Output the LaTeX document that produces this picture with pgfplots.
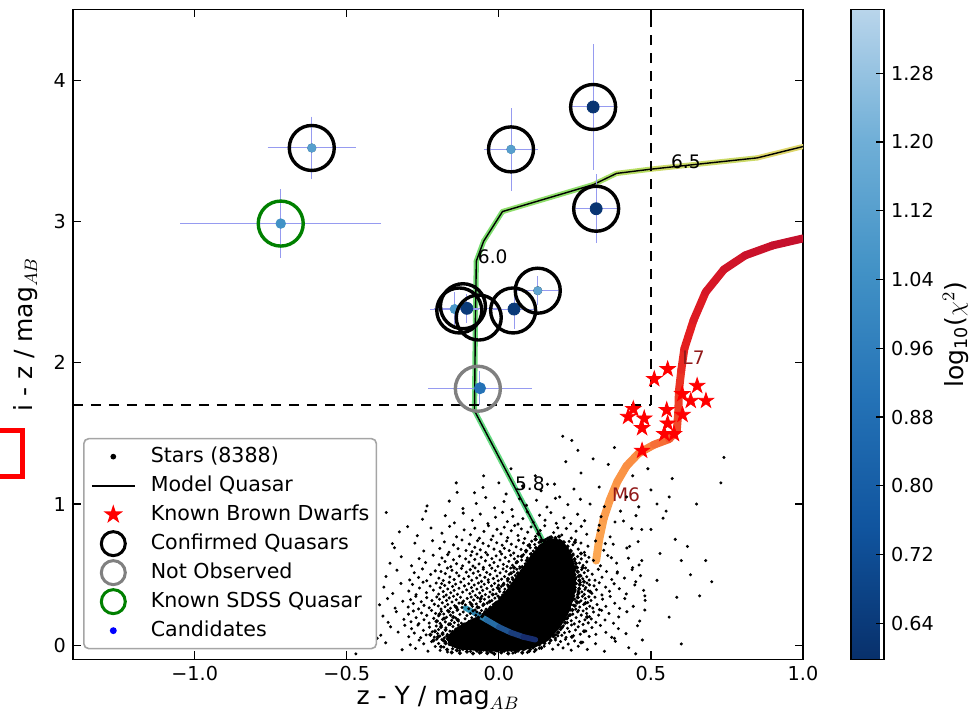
\documentclass[border=0pt]{standalone}
\usepackage{fontspec}
\setmainfont{DejaVu Sans}
\usepackage{pgfplots}
\pgfplotsset{compat=1.18}
\usetikzlibrary{plotmarks}

\definecolor{errc}{RGB}{150,155,240}
\definecolor{sdssg}{RGB}{0,128,0}
\definecolor{nobs}{RGB}{128,128,128}
\definecolor{lblred}{RGB}{145,25,25}
\definecolor{leggray}{RGB}{165,165,165}

% filled five-pointed star
\pgfdeclareplotmark{fstar}{%
  \pgfpathmoveto{\pgfpointpolar{90}{\pgfplotmarksize}}%
  \pgfpathlineto{\pgfpointpolar{126}{0.382\pgfplotmarksize}}%
  \pgfpathlineto{\pgfpointpolar{162}{\pgfplotmarksize}}%
  \pgfpathlineto{\pgfpointpolar{198}{0.382\pgfplotmarksize}}%
  \pgfpathlineto{\pgfpointpolar{234}{\pgfplotmarksize}}%
  \pgfpathlineto{\pgfpointpolar{270}{0.382\pgfplotmarksize}}%
  \pgfpathlineto{\pgfpointpolar{306}{\pgfplotmarksize}}%
  \pgfpathlineto{\pgfpointpolar{342}{0.382\pgfplotmarksize}}%
  \pgfpathlineto{\pgfpointpolar{18}{\pgfplotmarksize}}%
  \pgfpathlineto{\pgfpointpolar{54}{0.382\pgfplotmarksize}}%
  \pgfpathclose
  \pgfusepathqfillstroke}

\pgfplotsset{
  colormap={qso}{rgb255(0cm)=(30,50,150); rgb255(2cm)=(60,130,220); rgb255(3.5cm)=(70,200,225); rgb255(5cm)=(90,215,140); rgb255(7cm)=(120,222,110); rgb255(8.5cm)=(190,222,100); rgb255(10cm)=(228,212,110)},
  colormap={lowq}{rgb255(0cm)=(20,35,100); rgb255(5cm)=(35,100,160); rgb255(10cm)=(55,160,190)},
  colormap={bd}{rgb255(0cm)=(252,170,85); rgb255(3cm)=(250,140,65); rgb255(5cm)=(240,70,40); rgb255(7cm)=(228,30,32); rgb255(10cm)=(195,15,45)},
  colormap={cbblues}{rgb255(0cm)=(8,48,107); rgb255(1cm)=(16,84,158); rgb255(2cm)=(36,114,182); rgb255(3cm)=(66,146,198); rgb255(4cm)=(112,175,215); rgb255(5cm)=(185,213,235)},
  legimg/.style={legend image code/.code={%
    \path[draw=none,fill=none] (0pt,-7pt) rectangle (21.5pt,7pt);
    \draw[mark repeat=2,mark phase=2,##1] plot coordinates {(0pt,0pt) (10.75pt,0pt) (21.5pt,0pt)};}},
}

\begin{document}
\begin{tikzpicture}
\begin{axis}[
  at={(0pt,0pt)}, anchor=south west,
  scale only axis, width=365pt, height=325pt,
  xmin=-1.4, xmax=1.0, ymin=-0.1, ymax=4.5,
  xtick={-1,-0.5,0,0.5,1}, xticklabels={−1.0,−0.5,0.0,0.5,1.0},
  ytick={0,1,2,3,4}, yticklabels={0,1,2,3,4},
  tick align=inside, major tick length=4pt,
  tick style={black, line width=0.6pt},
  axis line style={line width=0.7pt},
  tick label style={font=\fontsize{9.6}{11}\selectfont},
  xlabel={z - Y / mag$_{AB}$}, ylabel={i - z / mag$_{AB}$},
  every axis x label/.style={at={([yshift=-22.75pt]axis description cs:0.5,0)}, anchor=base, font=\fontsize{12.5}{14}\selectfont},
  every axis y label/.style={at={([xshift=-20pt]axis description cs:0,0.5)}, rotate=90, anchor=base, font=\fontsize{12.5}{14}\selectfont},
  colormap name=cbblues, point meta min=0.598, point meta max=1.354,
  colorbar,
  colorbar style={
    at={(parent axis.north east)}, anchor=north west, xshift=15.5pt,
    width=16.5pt,
    ytick={0.64,0.72,0.80,0.88,0.96,1.04,1.12,1.20,1.28},
    yticklabels={0.64,0.72,0.80,0.88,0.96,1.04,1.12,1.20,1.28},
    ytick pos=right, yticklabel pos=right,
    tick align=inside, major tick length=4pt,
    tick style={black, line width=0.6pt},
    axis line style={line width=0.7pt},
    yticklabel style={font=\fontsize{9.6}{11}\selectfont},
    ylabel={log$_{\mathrm{10}}$($\chi^2$)},
    every axis y label/.style={at={([xshift=39.5pt]axis description cs:1,0.5)}, rotate=90, anchor=base, font=\fontsize{12.5}{14}\selectfont},
  },
  legend cell align=left,
  legend style={at={(axis description cs:0.0137,0.341)}, anchor=north west,
    draw=leggray, line width=0.8pt, rounded corners=2.5pt, fill=white,
    font=\fontsize{10.3}{12}\selectfont, inner xsep=3.5pt, inner ysep=2pt,
    nodes={inner sep=0pt}, column sep=7.5pt, row sep=0.5pt},
]

% model quasar track (coloured by redshift) with thin black line
\addplot[mesh, colormap name=qso, point meta=explicit, line width=2.6pt, line cap=round, line join=round, forget plot] coordinates {
(0.12,0.04) [0.60] (0.17,0.15) [0.75] (0.20,0.40) [0.916] (0.18,0.60) [0.953]
(0.157,0.69) [0.976] (0.045,1.15) [1.014] (-0.08,1.66) [1.052] (-0.077,2.30) [1.085]
(-0.074,2.72) [1.112] (-0.05,2.86) [1.127] (0.012,3.07) [1.142] (0.31,3.26) [1.188]
(0.387,3.34) [1.218] (0.50,3.37) [1.248] (0.85,3.45) [1.316] (1.0,3.53) [1.354]};
\addplot[black, line width=0.7pt, forget plot] coordinates {
(0.20,0.40) (0.18,0.60) (0.157,0.69) (0.045,1.15) (-0.08,1.66) (-0.077,2.30) (-0.074,2.72)
(-0.05,2.86) (0.012,3.07) (0.31,3.26) (0.387,3.34) (0.50,3.37) (0.85,3.45) (1.0,3.53)};

% brown dwarf track
\addplot[mesh, colormap name=bd, point meta=explicit, line width=4pt, line cap=round, line join=round, forget plot] coordinates {
(0.32,0.60) [0.598] (0.33,0.75) [0.636] (0.345,0.90) [0.674] (0.365,1.03) [0.711]
(0.39,1.16) [0.749] (0.42,1.27) [0.787] (0.46,1.36) [0.825] (0.51,1.42) [0.863]
(0.56,1.46) [0.916] (0.585,1.52) [0.953] (0.59,1.65) [0.991] (0.592,1.80) [1.029]
(0.60,1.95) [1.067] (0.61,2.10) [1.105] (0.64,2.30) [1.150] (0.68,2.50) [1.203]
(0.74,2.66) [1.248] (0.81,2.76) [1.286] (0.90,2.83) [1.324] (1.0,2.88) [1.354]};

% stars: saturated core of the stellar locus
\addplot[fill=black, draw=none, forget plot] coordinates {
(-0.165,0.0) (-0.13,-0.03) (-0.06,-0.04) (0.0,-0.045) (0.06,-0.04) (0.115,-0.02)
(0.16,0.03) (0.2,0.12) (0.228,0.22) (0.248,0.34) (0.254,0.45) (0.25,0.56) (0.236,0.66)
(0.208,0.745) (0.17,0.76) (0.135,0.715) (0.108,0.64) (0.078,0.55) (0.048,0.46) (0.018,0.37)
(-0.012,0.3) (-0.042,0.24) (-0.075,0.2) (-0.112,0.16) (-0.145,0.115) (-0.17,0.06)} -- cycle;

% low-redshift end of the quasar track, seen through the locus
\addplot[mesh, colormap name=lowq, point meta=explicit, line width=2.8pt, line cap=round, line join=round, forget plot] coordinates {
(-0.11,0.265) [1.354] (-0.08,0.23) [1.25] (-0.04,0.18) [1.1] (0.0,0.13) [0.95]
(0.04,0.09) [0.8] (0.08,0.06) [0.7] (0.12,0.04) [0.6]};

% stars: dense fringe of the core
\addplot[only marks, mark=*, mark size=0.8pt, black, forget plot] coordinates {
(-0.19,-0.01) (-0.175,0.015) (-0.17,-0.03) (-0.16,0.04) (-0.155,-0.05) (-0.145,0.0) (-0.138,-0.035) (-0.128,-0.055) (-0.118,-0.025) (-0.105,-0.045)
(-0.095,-0.02) (-0.085,-0.058) (-0.072,-0.038) (-0.063,-0.052) (-0.05,-0.03) (-0.038,-0.055) (-0.028,-0.042) (-0.015,-0.06) (-0.005,-0.035) (0.008,-0.05)
(0.018,-0.038) (0.031,-0.058) (0.042,-0.033) (0.054,-0.047) (0.066,-0.028) (0.077,-0.052) (0.088,-0.02) (0.1,-0.04) (0.112,-0.015) (0.121,-0.032)
(0.133,0.005) (0.14,-0.018) (0.15,0.015)
(0.158,0.05) (0.17,0.035) (0.168,0.085) (0.18,0.07) (0.186,0.11) (0.195,0.09) (0.198,0.14) (0.207,0.125) (0.205,0.175) (0.218,0.16) (0.212,0.2) (0.224,0.19)
(0.222,0.23) (0.234,0.215) (0.23,0.26) (0.242,0.25) (0.236,0.29) (0.25,0.28) (0.241,0.32) (0.255,0.31) (0.245,0.35) (0.259,0.34) (0.248,0.38) (0.262,0.37)
(0.25,0.41) (0.264,0.4) (0.252,0.44) (0.266,0.43)
(0.251,0.47) (0.265,0.46) (0.249,0.5) (0.263,0.49) (0.247,0.53) (0.26,0.52) (0.244,0.56) (0.257,0.55) (0.24,0.59) (0.253,0.58) (0.236,0.62) (0.249,0.61)
(0.23,0.65) (0.243,0.64) (0.222,0.68) (0.236,0.67) (0.213,0.71) (0.226,0.7) (0.2,0.74) (0.214,0.73) (0.186,0.76) (0.198,0.77)
(0.172,0.765) (0.16,0.755) (0.15,0.74) (0.138,0.735) (0.135,0.7) (0.122,0.69) (0.12,0.655) (0.107,0.645) (0.105,0.61) (0.092,0.6)
(0.09,0.565) (0.077,0.555) (0.075,0.52) (0.062,0.51) (0.06,0.475) (0.047,0.465) (0.045,0.43) (0.032,0.42) (0.03,0.385) (0.018,0.375)
(0.015,0.345) (0.003,0.335) (0.0,0.305) (-0.012,0.295) (-0.017,0.27) (-0.03,0.26) (-0.035,0.235) (-0.048,0.225) (-0.055,0.205) (-0.068,0.195)
(-0.08,0.18) (-0.092,0.17) (-0.1,0.158) (-0.114,0.148) (-0.12,0.132) (-0.134,0.122) (-0.14,0.105) (-0.153,0.095) (-0.158,0.075) (-0.17,0.065)
(-0.168,0.045) (-0.182,0.035)
(-0.2,0.06) (-0.21,0.1) (-0.19,0.13) (-0.205,0.17) (-0.18,0.19) (-0.195,0.22) (-0.165,0.24) (-0.15,0.2) (-0.135,0.18) (-0.16,0.15)
(-0.175,0.11) (-0.185,0.08) (-0.215,0.035) (-0.225,0.075) (-0.14,0.27) (-0.12,0.3) (-0.09,0.29) (-0.07,0.27) (-0.05,0.29) (-0.03,0.31)
(-0.06,0.33) (-0.02,0.36) (0.0,0.4) (0.015,0.43) (0.03,0.47) (0.04,0.51) (0.05,0.55) (0.06,0.59) (0.075,0.63) (0.09,0.67)
(0.1,0.71) (0.12,0.75) (0.13,0.79)
(0.28,0.1) (0.29,0.2) (0.285,0.3) (0.28,0.45) (0.275,0.55) (0.27,0.65) (0.25,0.73) (0.3,0.38) (0.27,0.02) (0.24,0.06)};

% stars: halo and outliers
\addplot[only marks, mark=*, mark size=0.55pt, black, forget plot] coordinates {
(-0.372,0.018) (-0.318,-0.031)
(-0.291,0.004) (-0.274,-0.022) (-0.262,0.037) (-0.247,0.011) (-0.233,-0.041) (-0.221,0.026) (-0.209,-0.008) (-0.204,0.044)
(-0.198,0.013) (-0.193,-0.036) (-0.187,0.041) (-0.181,-0.012) (-0.176,0.027) (-0.169,-0.047) (-0.163,0.006) (-0.158,0.033)
(-0.152,-0.024) (-0.147,0.046) (-0.141,-0.004) (-0.136,0.021) (-0.129,-0.038) (-0.122,0.039) (-0.115,-0.019) (-0.107,0.012)
(-0.093,-0.043) (-0.076,-0.031) (-0.058,-0.049) (-0.041,-0.036) (-0.022,-0.052) (-0.008,-0.039)
(0.011,-0.046) (0.028,-0.035) (0.046,-0.055) (0.063,-0.041) (0.081,-0.033) (0.094,-0.05)
(0.104,-0.029) (0.117,-0.044) (0.126,0.011) (0.133,-0.021) (0.142,0.034) (0.149,-0.006) (0.158,0.047) (0.166,0.016) (0.177,-0.027) (0.186,0.038) (0.195,0.004)
(0.203,0.027) (0.211,-0.018) (0.219,0.043) (0.228,0.009) (0.238,-0.034) (0.249,0.031) (0.261,-0.006) (0.276,0.022) (0.291,-0.029)
(0.318,0.012) (0.347,-0.042) (0.383,0.029) (0.427,-0.017) (0.472,0.038)
(-0.388,0.072) (-0.356,0.131) (-0.331,0.094) (-0.309,0.142)
(-0.296,0.061) (-0.287,0.118) (-0.278,0.087) (-0.266,0.143) (-0.257,0.054) (-0.248,0.106) (-0.239,0.074) (-0.228,0.129) (-0.219,0.096) (-0.212,0.058) (-0.206,0.137) (-0.201,0.083)
(-0.198,0.112) (-0.194,0.066) (-0.189,0.141) (-0.184,0.089) (-0.179,0.053) (-0.174,0.124) (-0.169,0.077) (-0.165,0.147) (-0.161,0.101) (-0.156,0.062)
(-0.151,0.133) (-0.147,0.086) (-0.142,0.115) (-0.137,0.071) (-0.133,0.144) (-0.128,0.127) (-0.122,0.139) (-0.116,0.148) (-0.109,0.146)
(-0.097,0.148) (-0.091,0.139) (-0.084,0.147) (-0.104,0.131) (-0.112,0.121)
(0.168,0.058) (0.174,0.083) (0.179,0.061) (0.184,0.104) (0.188,0.076) (0.192,0.129) (0.196,0.094) (0.199,0.147) (0.186,0.052) (0.194,0.067)
(0.203,0.112) (0.207,0.071) (0.212,0.138) (0.216,0.089) (0.221,0.056) (0.226,0.121) (0.232,0.097) (0.239,0.144) (0.245,0.068) (0.252,0.109) (0.261,0.131) (0.268,0.079) (0.277,0.148) (0.286,0.101) (0.297,0.063)
(0.306,0.126) (0.319,0.078) (0.334,0.141) (0.352,0.092) (0.371,0.057) (0.393,0.118) (0.418,0.083) (0.456,0.139)
(-0.381,0.207) (-0.364,0.163) (-0.337,0.238) (-0.312,0.184)
(-0.297,0.221) (-0.289,0.167) (-0.281,0.243) (-0.272,0.196) (-0.263,0.154) (-0.254,0.229) (-0.246,0.181) (-0.237,0.212) (-0.229,0.158) (-0.221,0.247) (-0.214,0.191) (-0.208,0.226) (-0.202,0.172)
(-0.198,0.209) (-0.193,0.156) (-0.189,0.241) (-0.185,0.184) (-0.181,0.222) (-0.176,0.166) (-0.172,0.199) (-0.168,0.246) (-0.164,0.152) (-0.159,0.214) (-0.155,0.177)
(-0.151,0.233) (-0.146,0.161) (-0.142,0.194) (-0.137,0.248) (-0.133,0.172) (-0.128,0.219) (-0.123,0.157) (-0.117,0.236) (-0.111,0.188) (-0.105,0.211)
(-0.098,0.171) (-0.094,0.226) (-0.089,0.195) (-0.085,0.244) (-0.081,0.181) (-0.076,0.213) (-0.072,0.237) (-0.067,0.199) (-0.062,0.228) (-0.057,0.247) (-0.051,0.218) (-0.046,0.239) (-0.039,0.249)
(0.216,0.183) (0.221,0.236) (0.225,0.161) (0.229,0.207) (0.234,0.249) (0.238,0.174) (0.243,0.221) (0.248,0.152) (0.254,0.196) (0.259,0.238) (0.265,0.168) (0.271,0.214) (0.277,0.244) (0.283,0.181) (0.289,0.226) (0.294,0.159) (0.298,0.203) (0.262,0.247)
(0.304,0.187) (0.311,0.236) (0.319,0.163) (0.328,0.214) (0.338,0.248) (0.349,0.179) (0.362,0.226) (0.377,0.157) (0.394,0.201) (0.421,0.238) (0.463,0.172)
(-0.392,0.287) (-0.366,0.331) (-0.341,0.264) (-0.316,0.312)
(-0.298,0.271) (-0.29,0.324) (-0.281,0.296) (-0.273,0.347) (-0.264,0.258) (-0.255,0.309) (-0.246,0.283) (-0.237,0.338) (-0.229,0.266) (-0.22,0.317) (-0.212,0.291) (-0.204,0.343)
(-0.199,0.279) (-0.195,0.326) (-0.19,0.257) (-0.186,0.301) (-0.181,0.344) (-0.177,0.273) (-0.172,0.318) (-0.168,0.289) (-0.163,0.336) (-0.159,0.262) (-0.154,0.307)
(-0.149,0.348) (-0.145,0.281) (-0.14,0.323) (-0.135,0.254) (-0.131,0.299) (-0.126,0.341) (-0.121,0.268) (-0.116,0.314) (-0.11,0.287) (-0.104,0.332)
(-0.099,0.259) (-0.095,0.304) (-0.091,0.342) (-0.087,0.276) (-0.083,0.321) (-0.078,0.251) (-0.074,0.293) (-0.07,0.338) (-0.065,0.268) (-0.061,0.311) (-0.056,0.347)
(-0.052,0.282) (-0.047,0.326) (-0.042,0.256) (-0.038,0.299) (-0.033,0.343) (-0.028,0.272) (-0.023,0.317) (-0.018,0.289) (-0.013,0.334) (-0.008,0.306) (-0.003,0.349)
(0.004,0.318) (0.009,0.341) (0.013,0.329) (0.017,0.348) (0.006,0.296) (0.021,0.337) (0.002,0.271) (0.024,0.349)
(0.234,0.262) (0.238,0.311) (0.241,0.343) (0.245,0.284) (0.249,0.327) (0.253,0.256) (0.257,0.298) (0.261,0.339) (0.266,0.271) (0.27,0.316) (0.275,0.347) (0.279,0.289) (0.284,0.332) (0.288,0.259) (0.292,0.303) (0.296,0.344) (0.299,0.277) (0.264,0.305)
(0.303,0.318) (0.309,0.264) (0.316,0.341) (0.323,0.289) (0.331,0.253) (0.341,0.327) (0.352,0.276) (0.366,0.346) (0.381,0.298) (0.397,0.262) (0.414,0.331) (0.442,0.276) (0.481,0.318)
(-0.378,0.412) (-0.349,0.367) (-0.322,0.438)
(-0.296,0.384) (-0.284,0.431) (-0.272,0.359) (-0.261,0.406) (-0.249,0.447) (-0.238,0.373) (-0.226,0.419) (-0.215,0.391) (-0.206,0.441)
(-0.198,0.363) (-0.193,0.408) (-0.188,0.437) (-0.183,0.381) (-0.178,0.424) (-0.173,0.356) (-0.168,0.399) (-0.163,0.446) (-0.158,0.372)
(-0.152,0.417) (-0.147,0.389) (-0.142,0.433) (-0.136,0.361) (-0.131,0.404) (-0.125,0.448) (-0.119,0.377) (-0.113,0.421) (-0.106,0.393)
(-0.099,0.436) (-0.095,0.366) (-0.09,0.409) (-0.086,0.383) (-0.081,0.427) (-0.077,0.354) (-0.072,0.398) (-0.067,0.441) (-0.063,0.371) (-0.058,0.414) (-0.053,0.389)
(-0.048,0.432) (-0.044,0.359) (-0.039,0.403) (-0.034,0.447) (-0.029,0.378) (-0.024,0.421) (-0.019,0.394) (-0.014,0.438) (-0.009,0.364) (-0.005,0.408) (-0.001,0.426)
(0.003,0.381) (0.008,0.417) (0.012,0.356) (0.016,0.439) (0.02,0.398) (0.024,0.371) (0.029,0.428) (0.033,0.409) (0.037,0.446) (0.041,0.387) (0.045,0.432) (0.049,0.419) (0.053,0.447)
(0.243,0.371) (0.247,0.418) (0.251,0.392) (0.255,0.437) (0.259,0.358) (0.264,0.404) (0.268,0.446) (0.273,0.379) (0.277,0.423) (0.281,0.361) (0.286,0.409) (0.29,0.441) (0.294,0.386) (0.298,0.428) (0.261,0.383) (0.283,0.396)
(0.306,0.368) (0.313,0.421) (0.321,0.394) (0.33,0.443) (0.339,0.357) (0.351,0.412) (0.364,0.383) (0.379,0.436) (0.396,0.401) (0.419,0.364) (0.447,0.428) (0.476,0.389)
(-0.371,0.487) (-0.335,0.532)
(-0.293,0.463) (-0.278,0.514) (-0.264,0.481) (-0.251,0.541) (-0.237,0.457) (-0.224,0.502) (-0.209,0.527)
(-0.197,0.476) (-0.19,0.523) (-0.183,0.459) (-0.176,0.508) (-0.169,0.547) (-0.161,0.484) (-0.154,0.531) (-0.147,0.466) (-0.139,0.513) (-0.131,0.492) (-0.123,0.544) (-0.115,0.471) (-0.107,0.518)
(-0.099,0.488) (-0.094,0.536) (-0.089,0.461) (-0.084,0.511) (-0.078,0.548) (-0.073,0.477) (-0.068,0.524) (-0.062,0.496) (-0.057,0.453) (-0.051,0.539)
(-0.046,0.482) (-0.04,0.516) (-0.035,0.464) (-0.029,0.502) (-0.023,0.546) (-0.018,0.473) (-0.012,0.528) (-0.006,0.491) (-0.002,0.457)
(0.004,0.513) (0.009,0.468) (0.014,0.541) (0.019,0.487) (0.024,0.524) (0.029,0.456) (0.034,0.503) (0.039,0.547) (0.044,0.479) (0.049,0.521) (0.054,0.494) (0.059,0.538) (0.064,0.511) (0.069,0.546) (0.074,0.528) (0.079,0.549)
(0.242,0.463) (0.246,0.508) (0.25,0.541) (0.254,0.479) (0.258,0.524) (0.263,0.457) (0.267,0.497) (0.272,0.536) (0.276,0.471) (0.281,0.514) (0.285,0.548) (0.289,0.486) (0.293,0.529) (0.297,0.462) (0.27,0.49)
(0.307,0.504) (0.316,0.461) (0.327,0.538) (0.339,0.482) (0.354,0.523) (0.371,0.466) (0.389,0.511) (0.413,0.476) (0.438,0.536) (0.466,0.493)
(-0.358,0.581) (-0.321,0.627) (-0.287,0.563) (-0.262,0.614) (-0.241,0.586) (-0.216,0.638)
(-0.196,0.571) (-0.187,0.619) (-0.177,0.593) (-0.168,0.642) (-0.158,0.557) (-0.149,0.606) (-0.139,0.578) (-0.129,0.631) (-0.119,0.563) (-0.109,0.612)
(-0.098,0.589) (-0.092,0.637) (-0.085,0.561) (-0.079,0.608) (-0.072,0.646) (-0.065,0.576) (-0.058,0.623) (-0.051,0.552) (-0.044,0.598) (-0.037,0.641) (-0.03,0.567) (-0.023,0.614) (-0.016,0.586) (-0.009,0.633) (-0.003,0.559)
(0.004,0.604) (0.009,0.647) (0.015,0.573) (0.021,0.621) (0.027,0.558) (0.033,0.594) (0.039,0.638) (0.045,0.567) (0.051,0.612) (0.057,0.584) (0.063,0.631) (0.069,0.556) (0.075,0.603) (0.081,0.642) (0.087,0.577) (0.094,0.619)
(0.102,0.572) (0.106,0.624) (0.109,0.598) (0.113,0.641) (0.116,0.617) (0.104,0.647) (0.111,0.632) (0.119,0.649) (0.101,0.611)
(0.236,0.621) (0.24,0.574) (0.244,0.647) (0.249,0.596) (0.254,0.558) (0.259,0.629) (0.265,0.583) (0.271,0.612) (0.277,0.566) (0.283,0.638) (0.289,0.591) (0.296,0.623)
(0.311,0.601) (0.334,0.563) (0.358,0.636) (0.387,0.582) (0.426,0.617) (0.461,0.569)
(-0.343,0.691) (-0.276,0.723) (-0.247,0.668) (-0.218,0.741)
(-0.194,0.686) (-0.179,0.732) (-0.164,0.659) (-0.149,0.711) (-0.134,0.684) (-0.121,0.746) (-0.108,0.671)
(-0.097,0.717) (-0.088,0.663) (-0.079,0.694) (-0.07,0.741) (-0.061,0.676) (-0.052,0.722) (-0.043,0.657) (-0.034,0.703) (-0.025,0.748) (-0.016,0.681) (-0.007,0.726)
(0.004,0.664) (0.011,0.709) (0.018,0.687) (0.026,0.738) (0.034,0.671) (0.041,0.716) (0.049,0.653) (0.057,0.697) (0.065,0.744) (0.073,0.679) (0.081,0.724) (0.089,0.661) (0.096,0.706)
(0.103,0.691) (0.108,0.737) (0.113,0.668) (0.118,0.714) (0.123,0.749) (0.127,0.683) (0.132,0.728) (0.138,0.746) (0.146,0.741) (0.154,0.748)
(0.225,0.687) (0.231,0.736) (0.237,0.664) (0.244,0.712) (0.252,0.745) (0.261,0.681) (0.27,0.724) (0.281,0.658) (0.293,0.702)
(0.318,0.739) (0.345,0.673) (0.376,0.716) (0.421,0.689) (0.458,0.734)
(-0.327,0.803) (-0.268,0.776) (-0.223,0.831) (-0.187,0.794) (-0.162,0.842) (-0.139,0.768) (-0.114,0.817)
(-0.093,0.783) (-0.079,0.829) (-0.064,0.758) (-0.049,0.806) (-0.034,0.847) (-0.019,0.774) (-0.006,0.821)
(0.007,0.789) (0.018,0.836) (0.029,0.762) (0.041,0.811) (0.052,0.848) (0.063,0.777) (0.074,0.824) (0.085,0.756) (0.095,0.801)
(0.106,0.838) (0.121,0.771) (0.136,0.813) (0.151,0.846) (0.166,0.764) (0.18,0.798) (0.194,0.832)
(0.207,0.781) (0.222,0.827) (0.238,0.759) (0.254,0.808) (0.271,0.842) (0.289,0.786) (0.327,0.814) (0.366,0.768) (0.437,0.826)
(-0.251,0.892) (-0.176,0.918) (-0.146,0.867) (-0.117,0.936) (-0.087,0.884) (-0.061,0.929) (-0.036,0.862) (-0.011,0.907)
(0.012,0.941) (0.028,0.876) (0.046,0.913) (0.063,0.858) (0.079,0.897) (0.094,0.944) (0.113,0.871) (0.134,0.921) (0.152,0.886) (0.171,0.939) (0.189,0.864)
(0.214,0.903) (0.236,0.861) (0.259,0.928) (0.282,0.882) (0.336,0.911) (0.382,0.873) (0.451,0.918)
(-0.236,0.987) (-0.163,1.021) (-0.118,0.968) (-0.074,1.004) (-0.043,1.046) (-0.014,0.973) (0.017,1.018) (0.043,0.961) (0.068,1.037) (0.091,0.992)
(0.124,1.027) (0.158,0.979) (0.186,1.041) (0.227,0.996) (0.268,1.034) (0.347,0.982)
(-0.137,1.083) (-0.052,1.117) (0.024,1.071) (0.078,1.128) (0.139,1.094) (0.183,1.141) (0.247,1.106)
(-0.62,0.13) (-0.55,0.42) (-0.5,0.7) (-0.47,-0.06) (-0.45,0.25) (-0.42,0.55) (-0.4,0.05) (-0.37,0.94) (-0.35,0.72) (-0.3,0.84)
(-0.24,0.95) (-0.14,1.15) (-0.08,1.08) (-0.05,1.2) (0.0,1.15) (0.04,1.25) (0.08,1.12) (0.12,1.2) (0.16,1.14) (0.2,1.05)
(0.21,1.48) (0.24,1.45) (0.27,1.22) (0.31,1.32) (0.3,1.0) (0.33,0.85) (0.35,0.72) (0.37,0.62) (0.39,0.52) (0.41,0.88)
(0.43,0.7) (0.44,1.2) (0.45,0.45) (0.46,0.98) (0.47,0.6) (0.48,0.25) (0.5,0.82) (0.5,1.1) (0.52,0.46) (0.53,0.65)
(0.55,0.95) (0.56,0.2) (0.57,1.18) (0.585,0.34) (0.6,0.01) (0.62,0.7) (0.65,1.0) (0.7,0.45) (0.74,1.33) (0.73,1.15)
(0.45,-0.06) (0.38,0.05) (0.22,1.3) (0.26,1.38) (0.33,1.12) (0.36,1.28) (0.38,1.4) (0.52,1.0) (0.54,0.9) (0.56,1.05)
(0.58,0.75) (0.6,0.6) (0.63,0.5) (0.66,0.35) (0.68,0.6) (0.47,0.82) (0.49,1.25) (0.42,1.05) (0.4,0.95) (0.48,0.35)
(0.44,0.55) (-0.44,0.82) (-0.52,0.15) (-0.41,0.38)};

% known brown dwarfs
\addplot[only marks, mark=fstar, mark size=4pt, red, forget plot] coordinates {
(0.555,1.955) (0.511,1.885) (0.652,1.837) (0.603,1.779) (0.631,1.731) (0.681,1.731)
(0.442,1.673) (0.425,1.618) (0.478,1.606) (0.471,1.538) (0.552,1.666) (0.604,1.632)
(0.555,1.571) (0.544,1.496) (0.576,1.496) (0.471,1.378)};

% selection cuts
\addplot[black, line width=0.8pt, dash pattern=on 5pt off 4pt, forget plot] coordinates {(-1.4,1.7) (0.5,1.7)};
\addplot[black, line width=0.8pt, dash pattern=on 5pt off 4pt, forget plot] coordinates {(0.5,1.7) (0.5,4.5)};

% candidates: error bars, then points coloured by log10(chi^2)
\addplot[only marks, mark=none, forget plot,
  error bars/.cd, x dir=both, y dir=both, x explicit, y explicit,
  error bar style={color=errc, line width=0.5pt},
  error mark options={color=errc, line width=0.5pt, mark size=3pt}]
  table[x=x, y=y, x error=ex, y error=ey, row sep=\\] {
x y ex ey\\
-0.615 3.52 0.125 0.18\\
-0.717 2.985 0.31 0.20\\
0.040 3.51 0.07 0.25\\
0.310 3.81 0.05 0.40\\
0.320 3.09 0.05 0.20\\
-0.145 2.38 0.06 0.08\\
-0.105 2.385 0.09 0.06\\
0.050 2.38 0.05 0.10\\
0.128 2.51 0.06 0.06\\
-0.062 1.82 0.15 0.08\\
};
\addplot[scatter, only marks, mark=*, point meta=explicit, forget plot,
  scatter/use mapped color={draw=mapped color, fill=mapped color},
  visualization depends on=value \thisrow{s}\as\msz,
  scatter/@pre marker code/.append style={/tikz/mark size=\msz pt}]
  table[x=x, y=y, meta=c, row sep=\\] {
x y c s\\
-0.615 3.52 1.12 2.1\\
-0.717 2.985 1.05 2.4\\
0.040 3.51 1.12 2.1\\
0.310 3.81 0.62 3.0\\
0.320 3.09 0.62 3.0\\
-0.145 2.38 1.08 2.3\\
-0.105 2.385 0.64 3.0\\
0.050 2.38 0.64 3.0\\
0.128 2.51 1.15 2.0\\
-0.062 1.82 0.90 2.8\\
};

% rings
\addplot[only marks, mark=o, mark size=11.25pt, mark options={line width=1.7pt, draw=black}, forget plot] coordinates {
(-0.615,3.52) (0.040,3.51) (0.310,3.81) (0.320,3.09) (-0.130,2.37) (-0.118,2.40) (-0.066,2.32) (0.047,2.37) (0.128,2.51)};
\addplot[only marks, mark=o, mark size=11.25pt, mark options={line width=1.7pt, draw=nobs}, forget plot] coordinates {(-0.069,1.816)};
\addplot[only marks, mark=o, mark size=11.25pt, mark options={line width=1.7pt, draw=sdssg}, forget plot] coordinates {(-0.717,2.985)};

% redshift / spectral type labels
\node[font=\fontsize{9.3}{11}\selectfont] at (axis cs:0.615,3.42) {6.5};
\node[font=\fontsize{9.3}{11}\selectfont] at (axis cs:-0.02,2.75) {6.0};
\node[font=\fontsize{9.3}{11}\selectfont] at (axis cs:0.102,1.145) {5.8};
\node[font=\fontsize{9.3}{11}\selectfont, text=lblred] at (axis cs:0.418,1.067) {M6};
\node[font=\fontsize{9.3}{11}\selectfont, text=lblred] at (axis cs:0.64,2.035) {L7};

% legend
\addlegendimage{only marks, mark=*, mark size=1pt, black, legimg}
\addlegendentry{Stars (8388)}
\addlegendimage{black, line width=1pt, legimg}
\addlegendentry{Model Quasar}
\addlegendimage{only marks, mark=fstar, mark size=3.8pt, red, mark options={sharp corners}, legimg}
\addlegendentry{Known Brown Dwarfs}
\addlegendimage{only marks, mark=o, mark size=6pt, mark options={line width=1.5pt, draw=black}, legimg}
\addlegendentry{Confirmed Quasars}
\addlegendimage{only marks, mark=o, mark size=6pt, mark options={line width=1.5pt, draw=nobs}, legimg}
\addlegendentry{Not Observed}
\addlegendimage{only marks, mark=o, mark size=6pt, mark options={line width=1.5pt, draw=sdssg}, legimg}
\addlegendentry{Known SDSS Quasar}
\addlegendimage{only marks, mark=*, mark size=1.3pt, blue, legimg}
\addlegendentry{Candidates}
\end{axis}
\draw[red, line width=2.5pt] (-45pt,91.5pt) rectangle (-25.25pt,114.5pt);
\pgfresetboundingbox
\useasboundingbox (-36.5pt,-30.75pt) rectangle (448.5pt,329.75pt);
\end{tikzpicture}
\end{document}
